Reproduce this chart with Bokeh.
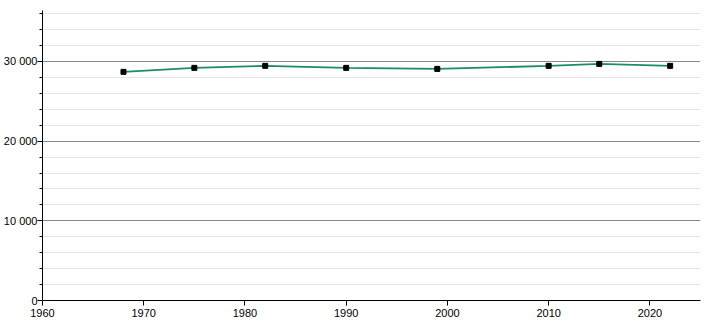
from bokeh.plotting import figure
from bokeh.models import FixedTicker, Range1d
from bokeh.embed import file_html
from bokeh.resources import INLINE

years = [1968, 1975, 1982, 1990, 1999, 2010, 2015, 2022]
population = [28700, 29200, 29450, 29200, 29070, 29450, 29700, 29450]

x_ticks = [1960, 1970, 1980, 1990, 2000, 2010, 2020]
y_ticks = [0, 10000, 20000, 30000]
y_tick_labels = ["0", "10 000", "20 000", "30 000"]
y_minor = [2000, 4000, 6000, 8000, 12000, 14000, 16000, 18000, 22000, 24000, 26000, 28000, 32000, 34000, 36000]

p = figure(width=710, height=320, output_backend="svg", toolbar_location=None,
           x_range=Range1d(1960, 2025), y_range=Range1d(0, 36400))
p.min_border_left = 0
p.min_border_right = 10
p.min_border_top = 10
p.min_border_bottom = 20
p.outline_line_color = None
p.background_fill_color = "white"

p.xaxis.ticker = FixedTicker(ticks=x_ticks)
p.yaxis.ticker = FixedTicker(ticks=y_ticks, minor_ticks=y_minor)
p.yaxis.major_label_overrides = {t: l for t, l in zip(y_ticks, y_tick_labels)}

for ax in (p.xaxis[0], p.yaxis[0]):
    ax.axis_line_color = "black"
    ax.axis_line_width = 1
    ax.major_tick_line_color = "black"
    ax.major_tick_in = 0
    ax.major_tick_out = 5
    ax.minor_tick_in = 0
    ax.minor_tick_out = 3
    ax.major_label_text_font = "Liberation Sans"
    ax.major_label_text_font_size = "11px"
    ax.major_label_text_color = "black"
    ax.major_label_standoff = 3
p.yaxis.major_label_standoff = 0
p.xaxis.minor_tick_line_color = None
p.yaxis.minor_tick_line_color = "black"

p.xgrid.grid_line_color = None
p.ygrid.grid_line_color = "#888888"
p.ygrid.grid_line_width = 1
p.ygrid.minor_grid_line_color = "#e4e4e4"
p.ygrid.minor_grid_line_width = 1

p.line(years, population, line_color="#1b8c6b", line_width=1.8)
p.scatter(years, population, marker="square", size=5, fill_color="black", line_color="black")

open("out.html", "w").write(file_html(p, INLINE))
